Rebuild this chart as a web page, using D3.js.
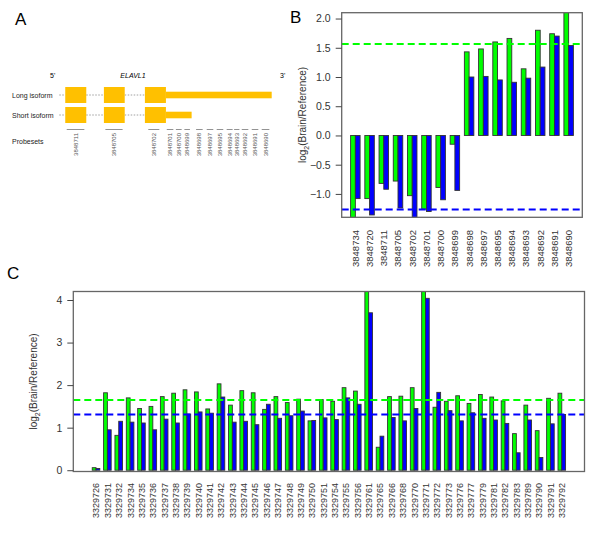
<!DOCTYPE html>
<html>
<head>
<meta charset="utf-8">
<script src="https://cdn.jsdelivr.net/npm/d3@7"></script>
<style>
  body { margin: 0; background: #fff; }
  text { font-family: "Liberation Sans", Arial, sans-serif; }
</style>
</head>
<body>
<div id="fig"></div>
<script>
// ---- panel A: gene model (positions in relative gene units 0..1000)
const isoforms = ["Long isoform", "Short isoform"];
const exons = [[28, 127], [210, 308], [403, 502]];
const utrEnd = [1000, 623]; // long, short
const aProbes = ["3848711", "3848705", "3848702", "3848701", "3848700", "3848699", "3848698",
  "3848697", "3848695", "3848694", "3848693", "3848692", "3848691", "3848690"];
const aProbeStart = [35, 217, 419, 506, 549, 589, 644, 694, 741, 788, 823, 859, 906, 953];
const aProbeEnd = [118, 298, 471, 537, 576, 615, 675, 725, 772, 816, 848, 890, 937, 989];

// ---- panel B
const bProbes = ["3848734", "3848720", "3848711", "3848705", "3848702", "3848701", "3848700", "3848699",
  "3848698", "3848697", "3848695", "3848694", "3848693", "3848692", "3848691", "3848690"];
const bGreen = [-1.45, -1.08, -0.82, -0.78, -1.03, -1.26, -0.89, -0.15, 1.43, 1.48, 1.60, 1.66, 1.14, 1.80, 1.74, 2.2];
const bBlue = [-1.08, -1.36, -0.92, -1.24, -1.45, -1.30, -1.10, -0.94, 1.00, 1.01, 0.95, 0.91, 0.98, 1.17, 1.70, 1.54];
const bTicks = [-1, -0.5, 0, 0.5, 1, 1.5, 2];
const bGreenLine = 1.565, bBlueLine = -1.267;

// ---- panel C
const cProbes = ["3329726", "3329731", "3329732", "3329734", "3329735", "3329736", "3329737", "3329738",
  "3329739", "3329740", "3329741", "3329742", "3329743", "3329744", "3329745", "3329746", "3329747",
  "3329748", "3329749", "3329750", "3329751", "3329754", "3329755", "3329756", "3329761", "3329765",
  "3329766", "3329768", "3329770", "3329771", "3329772", "3329773", "3329776", "3329777", "3329779",
  "3329781", "3329782", "3329783", "3329789", "3329790", "3329791", "3329792"];
const cGreen = [0.06, 1.82, 0.82, 1.70, 1.45, 1.50, 1.73, 1.81, 1.89, 1.84,
  1.44, 2.03, 1.53, 1.87, 1.82, 1.43, 1.73, 1.59, 1.67, 1.16,
  1.66, 1.62, 1.94, 1.86, 4.3, 0.54, 1.73, 1.74, 1.94, 4.3,
  1.48, 1.62, 1.75, 1.57, 1.78, 1.72, 1.63, 0.86, 1.53, 0.93,
  1.69, 1.81];
const cBlue = [0.04, 0.95, 1.15, 1.13, 1.11, 0.95, 1.20, 1.11, 1.32, 1.37,
  1.34, 1.72, 1.13, 1.15, 1.07, 1.55, 1.22, 1.28, 1.39, 1.17,
  1.23, 1.19, 1.70, 1.55, 3.70, 0.80, 1.24, 1.16, 1.45, 4.04,
  1.83, 1.40, 1.16, 1.35, 1.22, 1.18, 1.10, 0.41, 1.18, 0.30,
  1.09, 1.31];
const cTicks = [0, 1, 2, 3, 4];
const cGreenLine = 1.65, cBlueLine = 1.31;

const GREEN = "#00ff00", BLUE = "#0000ff";

const svg = d3.select("#fig").append("svg")
  .attr("width", 600).attr("height", 533);

// panel letters
[["A", 15, 25], ["B", 290, 23], ["C", 7, 279]].forEach(([t, x, y]) => {
  svg.append("text").attr("x", x).attr("y", y).style("font-size", "17px").text(t);
});

// ================= panel A =================
const gx = d3.scaleLinear().domain([0, 1000]).range([59.3, 271.7]);
const rowY = d3.scaleBand().domain(isoforms).range([87, 123]).paddingInner(0.2);
const gA = svg.append("g");

gA.append("text").attr("x", 50).attr("y", 78).style("font-size", "7px").text("5'");
gA.append("text").attr("x", 280).attr("y", 78).style("font-size", "7px").text("3'");
gA.append("text").attr("x", 133).attr("y", 78).attr("text-anchor", "middle")
  .style("font-size", "7px").style("font-style", "italic").text("ELAVL1");

isoforms.forEach((name, i) => {
  const y0 = rowY(name), h = rowY.bandwidth(), cy = y0 + h / 2;
  gA.append("text").attr("x", 12).attr("y", cy + 2.5).style("font-size", "7px")
    .style("fill", "#222").text(name);
  // dotted introns
  const gaps = [[0, exons[0][0]], [exons[0][1], exons[1][0]], [exons[1][1], exons[2][0]]];
  gA.selectAll(null).data(gaps).enter().append("line")
    .attr("x1", d => gx(d[0])).attr("x2", d => gx(d[1]))
    .attr("y1", cy).attr("y2", cy)
    .attr("stroke", "#888").attr("stroke-width", 0.8).attr("stroke-dasharray", "1.5,1.5");
  gA.selectAll(null).data(exons).enter().append("rect")
    .attr("x", d => gx(d[0])).attr("width", d => gx(d[1]) - gx(d[0]))
    .attr("y", y0).attr("height", h).attr("fill", "#ffc000");
  gA.append("rect").attr("x", gx(exons[2][1])).attr("width", gx(utrEnd[i]) - gx(exons[2][1]))
    .attr("y", cy - 3.3).attr("height", 6.6).attr("fill", "#ffc000");
});

gA.append("text").attr("x", 12).attr("y", 143.5).style("font-size", "7px")
  .style("fill", "#222").text("Probesets");
gA.selectAll(null).data(aProbes).enter().append("line")
  .attr("x1", (d, i) => gx(aProbeStart[i])).attr("x2", (d, i) => gx(aProbeEnd[i]))
  .attr("y1", 129.5).attr("y2", 129.5).attr("stroke", "#777").attr("stroke-width", 0.8);
gA.selectAll(null).data(aProbes).enter().append("text")
  .attr("transform", (d, i) => `translate(${gx((aProbeStart[i] + aProbeEnd[i]) / 2) + 2},133) rotate(-90)`)
  .attr("text-anchor", "end")
  .style("font-size", "6px").style("fill", "#555")
  .text(d => d);

// ================= bar panels =================
function barPanel(opt) {
  const { probes, green, blue, ticks, domain, box, lines, fmt, id, labelFont, labelTop, ylabX } = opt;
  const n = probes.length;
  const g = svg.append("g");
  const x = d3.scaleBand().domain(probes).range([box.left, box.right])
    .paddingInner(1 / 3).paddingOuter((3 * n - 1) * 0.04 / 3);
  const y = d3.scaleLinear().domain(domain).range([box.bottom, box.top]);
  const bw = x.bandwidth() / 2;

  g.append("clipPath").attr("id", id).append("rect")
    .attr("x", box.left).attr("y", box.top)
    .attr("width", box.right - box.left).attr("height", box.bottom - box.top);

  const bars = g.append("g").attr("clip-path", `url(#${id})`);
  [[green, GREEN, 0], [blue, BLUE, 1]].forEach(([vals, col, k]) => {
    bars.selectAll(null).data(probes).enter().append("rect")
      .attr("x", d => x(d) + k * bw)
      .attr("width", bw)
      .attr("y", (d, i) => y(Math.max(0, vals[i])))
      .attr("height", (d, i) => Math.abs(y(vals[i]) - y(0)))
      .attr("fill", col).attr("stroke", "#333").attr("stroke-width", 0.9);
  });

  // threshold lines
  lines.forEach(([v, col]) => {
    g.append("line").attr("x1", box.left).attr("x2", box.right)
      .attr("y1", y(v)).attr("y2", y(v))
      .attr("stroke", col).attr("stroke-width", 2).attr("stroke-dasharray", "7,4");
  });

  g.append("rect").attr("x", box.left).attr("y", box.top)
    .attr("width", box.right - box.left).attr("height", box.bottom - box.top)
    .attr("fill", "none").attr("stroke", "#666").attr("stroke-width", 1.3);

  const ax = g.append("g").attr("transform", `translate(${box.left},0)`)
    .call(d3.axisLeft(y).tickValues(ticks).tickFormat(fmt).tickSize(6).tickPadding(5));
  ax.select(".domain").remove();
  ax.selectAll("line").attr("stroke", "#444");
  ax.selectAll("text").style("font-size", "10.5px").style("fill", "#333")
    .style("font-family", "'Liberation Sans', Arial, sans-serif");

  g.selectAll(null).data(probes).enter().append("text")
    .attr("transform", d => `translate(${x(d) + bw + 3.4},${labelTop}) rotate(-90)`)
    .attr("text-anchor", "end")
    .style("font-size", labelFont).style("fill", "#333")
    .text(d => d);

  const yl = g.append("text")
    .attr("transform", `translate(${ylabX},${(box.top + box.bottom) / 2}) rotate(-90)`)
    .attr("text-anchor", "middle").style("font-size", "10px").style("fill", "#333");
  yl.append("tspan").text("log");
  yl.append("tspan").attr("dy", 2.5).style("font-size", "7px").text("2");
  yl.append("tspan").attr("dy", -2.5).text("(Brain/Reference)");
}

barPanel({
  id: "clipB", probes: bProbes, green: bGreen, blue: bBlue, ticks: bTicks,
  domain: [-1.4, 2.1], box: { left: 341.7, right: 582.3, top: 12.7, bottom: 217.3 },
  lines: [[bGreenLine, GREEN], [bBlueLine, BLUE]], fmt: d3.format(".1f"),
  labelFont: "9.5px", labelTop: 230, ylabX: 306
});

barPanel({
  id: "clipC", probes: cProbes, green: cGreen, blue: cBlue, ticks: cTicks,
  domain: [-0.03, 4.2], box: { left: 73.3, right: 584.5, top: 291.5, bottom: 471.5 },
  lines: [[cGreenLine, GREEN], [cBlueLine, BLUE]], fmt: d3.format("d"),
  labelFont: "9px", labelTop: 483, ylabX: 37
});
</script>
</body>
</html>
